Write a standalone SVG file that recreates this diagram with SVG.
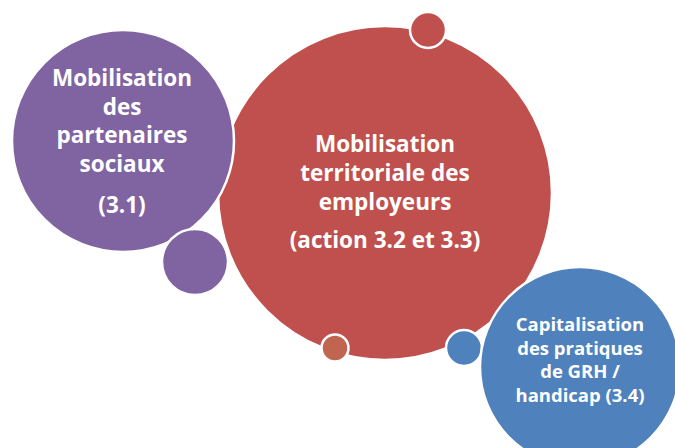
<svg xmlns="http://www.w3.org/2000/svg" width="675" height="448" viewBox="0 0 675 448">
<style>
.c{stroke:#fff;stroke-width:2.5}
.t{font-family:"Open Sans","Liberation Sans",sans-serif;font-weight:bold;fill:#fff;text-anchor:middle}
.big{font-size:22.5px}
.sm{font-size:18.5px}
</style>
<rect width="675" height="448" fill="#fff"/>
<g id="node-red">
<circle class="c" cx="385" cy="193" r="167" fill="#C0504D"/>
<circle class="c" cx="428" cy="30" r="18" fill="#C0504D"/>
<circle class="c" cx="335" cy="348" r="13.5" fill="#C0654F"/>
<text class="t big" x="385" y="152">Mobilisation</text>
<text class="t big" x="385" y="181">territoriale des</text>
<text class="t big" x="385" y="210">employeurs</text>
<text class="t big" x="385" y="248">(action 3.2 et 3.3)</text>
</g>
<g id="node-purple">
<circle class="c" cx="123" cy="141" r="111" fill="#8064A2"/>
<circle class="c" cx="195" cy="262" r="33" fill="#8064A2"/>
<text class="t big" x="122" y="86">Mobilisation</text>
<text class="t big" x="122" y="115">des</text>
<text class="t big" x="122" y="143">partenaires</text>
<text class="t big" x="122" y="172">sociaux</text>
<text class="t big" x="122" y="213">(3.1)</text>
</g>
<g id="node-blue">
<circle class="c" cx="464" cy="348" r="18" fill="#4F81BD"/>
<circle class="c" cx="580" cy="367" r="100" fill="#4F81BD"/>
<text class="t sm" x="580" y="331">Capitalisation</text>
<text class="t sm" x="580" y="355">des pratiques</text>
<text class="t sm" x="580" y="378">de GRH /</text>
<text class="t sm" x="580" y="402">handicap (3.4)</text>
</g>
<g id="connectors"></g>
</svg>
